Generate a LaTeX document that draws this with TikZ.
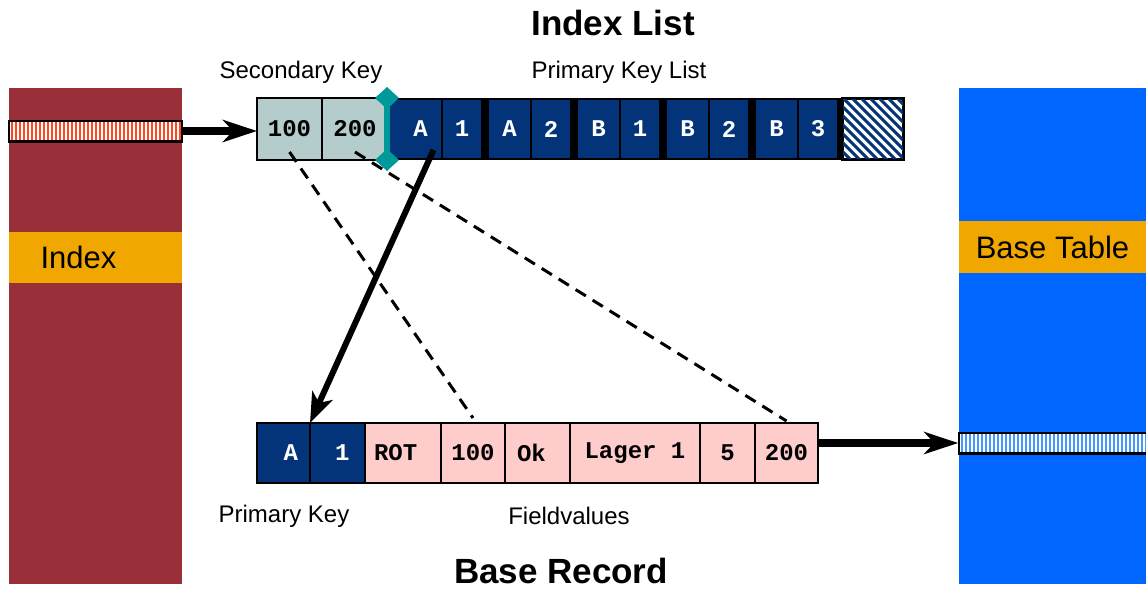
\documentclass[tikz,border=0pt]{standalone}
\usepackage{fontspec}
\setmainfont{Liberation Sans}
\setmonofont{Liberation Mono}
\usetikzlibrary{arrows.meta,positioning,shapes.geometric}

\definecolor{idxred}{RGB}{153,48,57}
\definecolor{bandorange}{RGB}{240,168,0}
\definecolor{tabblue}{RGB}{0,102,255}
\definecolor{pkblue}{RGB}{3,52,122}
\definecolor{skgray}{RGB}{180,204,204}
\definecolor{markteal}{RGB}{0,153,153}
\definecolor{fvpink}{RGB}{255,204,204}
\definecolor{stripered}{RGB}{255,70,30}
\definecolor{stripeblue}{RGB}{70,150,255}

\begin{document}
\begin{tikzpicture}[x=1pt, y=-1pt,
  cell/.style={minimum height=62pt, inner sep=0pt, outer sep=0pt, font=\ttfamily\bfseries\fontsize{24}{24}\selectfont},
  seckey/.style={cell, draw=black, line width=1.2pt, fill=skgray},
  pkcell/.style={cell, fill=pkblue, text=white, minimum height=58pt},
  fieldcell/.style={cell, draw=black, line width=1.2pt, fill=fvpink, minimum height=60pt},
  keycell/.style={fieldcell, fill=pkblue, text=white},
  band/.style={fill=bandorange, inner sep=0pt, font=\fontsize{31}{31}\selectfont},
  stripebar/.style={draw=black, fill=white, line width=1.5pt, minimum height=20pt, inner sep=0pt},
  tealdiamond/.style={diamond, fill=markteal, minimum width=24pt, minimum height=22pt, inner sep=0pt, outer sep=0pt},
  tagtext/.style={font=\fontsize{24}{24}\selectfont},
  headtext/.style={anchor=base, font=\bfseries\fontsize{35}{35}\selectfont},
  bigarrow/.style={line width=8pt, -{Stealth[length=34pt, width=22pt, inset=10pt]}},
  keyline/.style={line width=3pt, dash pattern=on 12pt off 8pt}
]
\useasboundingbox (0,0) rectangle (1146,589);

% the two tables
\fill[idxred] (9,88) rectangle (182,584);
\fill[tabblue] (959,88) rectangle (1146,584);
\node[band, minimum width=173pt, minimum height=51pt, text width=110pt, align=left] (idxband) at (95.5,257.5) {Index};
\node[band, minimum width=187pt, minimum height=52pt] (tabband) at (1052.5,247) {Base Table};

% index entry and base table row
\node[stripebar, minimum width=172pt] (idxbar) at (95,131) {};
\foreach \i in {0,...,42}
  \fill[stripered] (11+\i*4,122) rectangle +(1.6,18);
\draw[line width=1.5pt] (idxbar.south west) rectangle (idxbar.north east);
\node[stripebar, minimum width=190pt] (tabbar) at (1054,443) {};
\foreach \i in {0,...,46}
  \fill[stripeblue] (961+\i*4,434) rectangle +(1.6,18);
\draw[line width=1.5pt] (tabbar.south west) rectangle (tabbar.north east);

% index list
\node[seckey, minimum width=65pt] (sk100) at (289.5,129) {100};
\node[seckey, minimum width=66pt, right=0pt of sk100] (sk200) {200};
\fill[black] (388,98) rectangle (843,160);
\fill[pkblue] (389,100) rectangle (401,158);
\foreach \s/\l/\d [count=\n] in {398/A/1, 487/A/2, 576/B/1, 665/B/2, 754/B/3} {
  \node[pkcell, minimum width=41pt] (pl\n) at (\s+22.5,129) {\l};
  \node[pkcell, minimum width=38pt] (pd\n) at (\s+64,129) {\d};
}
\node[draw=black, fill=white, line width=2pt, minimum width=60pt, minimum height=60pt, inner sep=0pt] (free) at (873,129) {};
\begin{scope}
  \clip (free.south west) rectangle (free.north east);
  \foreach \k in {-8,...,8}
    \draw[pkblue, line width=3pt] (843+\k*9,98) -- +(62,62);
\end{scope}
\draw[line width=2pt] (free.south west) rectangle (free.north east);
\node[tealdiamond] (mtop) at (387,98) {};
\node[tealdiamond] (mbot) at (387,160) {};
\draw[markteal, line width=6pt] (mtop.center) -- (mbot.center);

% base record
\node[keycell, minimum width=53pt, text width=29pt, align=right] (pa) at (283.5,453) {A};
\node[keycell, minimum width=55pt, text width=24pt, align=right, right=0pt of pa] (p1) {1};
\node[fieldcell, minimum width=76pt, text width=58pt, align=left, right=0pt of p1] (frot) {ROT};
\node[fieldcell, minimum width=64pt, right=0pt of frot] (f100) {100};
\node[fieldcell, minimum width=65pt, text width=41pt, align=left, right=0pt of f100] (fok) {Ok};
\node[fieldcell, minimum width=130pt, right=0pt of fok] (flager) {Lager 1};
\node[fieldcell, minimum width=55pt, right=0pt of flager] (f5) {5};
\node[fieldcell, minimum width=63pt, right=0pt of f5] (f200) {200};

% connectors
\draw[bigarrow] (idxbar.east) -- (idxbar.east -| sk100.west);
\draw[bigarrow] (f200.east |- tabbar.west) -- (tabbar.west);
\draw[line width=6pt, -{Stealth[length=30pt, width=22pt, inset=8pt]}] ([xshift=13pt,yshift=8pt]pl1.south) -- (pa.north east);
\draw[keyline] ([yshift=8pt]sk100.south) -- ([yshift=5pt]f100.north);
\draw[keyline] ([yshift=8pt]sk200.south) -- ([yshift=2pt]f200.north);

% texts
\node[headtext] (titlelist) at (613,35) {Index List};
\node[headtext] (titlerecord) at (561,583) {Base Record};
\node[tagtext] (tagsec) at (301,72) {Secondary Key};
\node[tagtext] (tagpkl) at (619,72) {Primary Key List};
\node[tagtext] (tagpk) at (284,516) {Primary Key};
\node[tagtext] (tagfv) at (569,516) {Fieldvalues};
\end{tikzpicture}
\end{document}
